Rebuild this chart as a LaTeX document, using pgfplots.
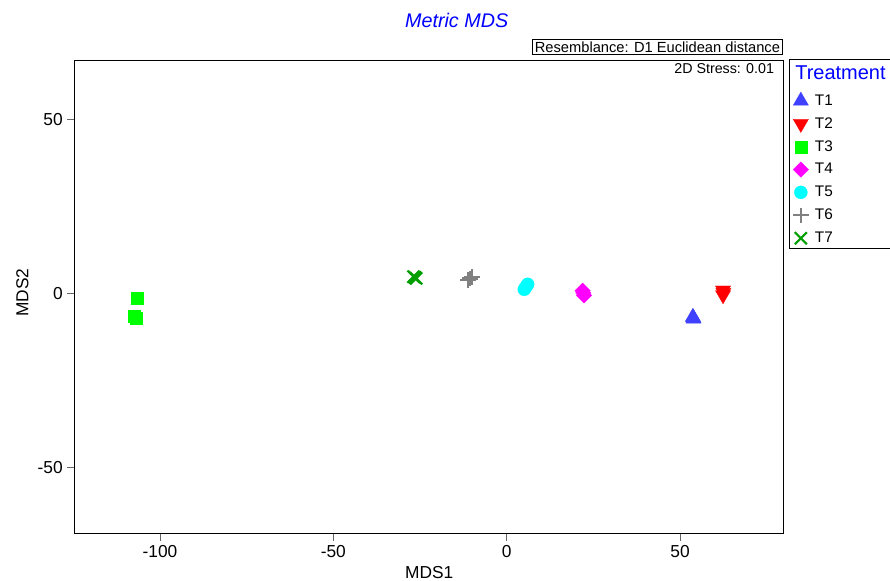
\documentclass[border=0pt]{standalone}
\usepackage{fontspec}
\setmainfont{Liberation Sans}
\usepackage{pgfplots}
\pgfplotsset{compat=1.18}
\definecolor{tone}{RGB}{64,64,255}
\definecolor{ttwo}{RGB}{255,0,0}
\definecolor{tthree}{RGB}{0,255,0}
\definecolor{tfour}{RGB}{255,0,255}
\definecolor{tfive}{RGB}{0,255,255}
\definecolor{tsix}{RGB}{128,128,128}
\definecolor{tseven}{RGB}{0,158,0}
\definecolor{mblue}{RGB}{0,0,255}
\pgfplotsset{
  mk/.style={only marks,
    legend image code/.code={\draw[mark repeat=2,mark phase=2,##1] plot coordinates {(0cm,0cm)(0.25cm,0cm)(0.5cm,0cm)};}},
}
\begin{document}
\begin{tikzpicture}
\path[use as bounding box] (0pt,0pt) rectangle (667.5pt,-435.75pt);
\begin{axis}[
  at={(56.03pt,-399.98pt)}, anchor=south west,
  scale only axis, width=531.75pt, height=354.45pt,
  xmin=-124.6, xmax=79.9, ymin=-69.0, ymax=66.9,
  xtick={-100,-50,0,50}, ytick={-50,0,50},
  xtick pos=bottom, ytick pos=left, tick align=outside,
  major tick length=5.5pt,
  tick style={black!60, line width=0.6pt},
  axis line style={line width=0.75pt},
  ticklabel style={font=\fontsize{13}{15}\selectfont},
  /pgf/number format/assume math mode=true,
  xlabel={MDS1}, ylabel={MDS2},
  every axis x label/.style={at={(axis description cs:0.5,-0.0955)}, anchor=base,
    inner sep=0pt, font=\fontsize{13}{15}\selectfont},
  every axis y label/.style={at={(axis description cs:-0.0654,0.5095)}, anchor=base, rotate=90,
    inner sep=0pt, font=\fontsize{13}{15}\selectfont},
  legend style={at={(rel axis cs:1.0129,0.7698)}, anchor=west, draw=none, fill=none,
    inner sep=0pt, row sep=3.7pt, column sep=2.8pt, font=\fontsize{11.5}{13}\selectfont,
    nodes={inner sep=2pt}},
  legend cell align=left,
]
\addplot[mk, mark=triangle*, mark size=6.6pt, mark options={draw=tone, fill=tone, line width=0.2pt}]
  coordinates {(53.7,-6.8) (53.9,-7.3) (53.8,-7.0)};
\addlegendentry{T1}
\addplot[mk, mark=triangle*, mark size=6.6pt, mark options={rotate=180, draw=ttwo, fill=ttwo, line width=0.2pt}]
  coordinates {(62.4,0.86) (62.4,-0.49) (62.5,0.2)};
\addlegendentry{T2}
\addplot[mk, mark=square*, mark size=4.5pt, mark options={draw=tthree, fill=tthree, line width=0.2pt}]
  coordinates {(-106.5,-1.4) (-107.6,-6.6) (-106.9,-7.2)};
\addlegendentry{T3}
\addplot[mk, mark=square*, mark size=4.1pt, mark options={rotate=45, draw=tfour, fill=tfour, line width=0.2pt}]
  coordinates {(21.9,0.75) (22.3,-0.58) (22.1,0.1)};
\addlegendentry{T4}
\addplot[mk, mark=*, mark size=4.9pt, mark options={draw=tfive, fill=tfive, line width=0.2pt}]
  coordinates {(6.05,2.6) (5.07,1.15) (5.6,1.9)};
\addlegendentry{T5}
\addplot[mk, mark=+, mark size=5.8pt, mark options={draw=tsix, line width=1.8pt}]
  coordinates {(-11.2,3.8) (-10.0,4.7) (-10.6,4.3)};
\addlegendentry{T6}
\addplot[mk, mark=x, mark size=6.4pt, mark options={draw=tseven, line width=1.6pt}]
  coordinates {(-26.9,4.8) (-26.1,4.3) (-26.5,4.6)};
\addlegendentry{T7}
\end{axis}
\node[font=\fontsize{14.8}{17}\selectfont\itshape, text=mblue] at (342.5pt,-15pt) {Metric MDS};
\draw[line width=0.75pt] (399.5pt,-29.5pt) rectangle (586.7pt,-41.25pt);
\node[font=\fontsize{11}{12}\selectfont, inner sep=0pt] at (493.1pt,-35.4pt) {Resemblance: D1 Euclidean distance};
\node[anchor=base east, font=\fontsize{10.7}{12}\selectfont, inner sep=0pt] at (580.7pt,-55pt) {2D Stress: 0.01};
\node[anchor=base west, font=\fontsize{15}{17}\selectfont, text=mblue, inner sep=0pt] at (596.25pt,-60pt) {Treatment};
\draw[line width=0.75pt] (700pt,-45pt) -- (592pt,-45pt) -- (592pt,-186.75pt) -- (700pt,-186.75pt);
\end{tikzpicture}
\end{document}
